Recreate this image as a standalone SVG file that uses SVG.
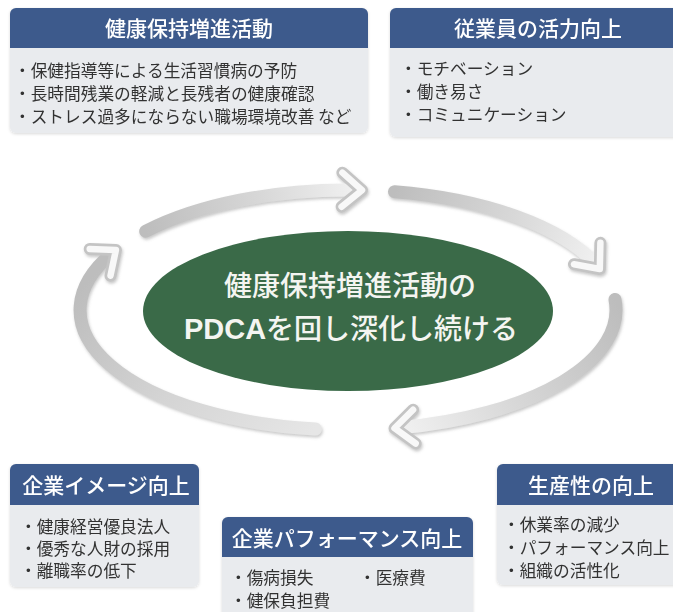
<svg xmlns="http://www.w3.org/2000/svg" width="673" height="612" viewBox="0 0 673 612">
<style>
  .hdr { fill: #3d5a8c; }
  .body { fill: #e9ebee; }
  .htxt { font-family: "Noto Sans CJK JP", "Noto Sans", sans-serif; font-size: 21px; font-weight: 500; fill: #ffffff; text-anchor: middle; }
  .btxt { font-family: "Noto Sans CJK JP", "Noto Sans", sans-serif; font-size: 16.7px; fill: #333333; }
  .ctxt { font-family: "Noto Sans CJK JP", "Noto Sans", sans-serif; font-size: 28px; font-weight: 500; fill: #f4f5f1; text-anchor: middle; }
  .latin { font-family: "Liberation Sans", "Noto Sans CJK JP", sans-serif; font-size: 29px; font-weight: 700; }
  .shaft { fill: none; stroke-width: 13; stroke-linecap: round; }
  .headO { fill: none; stroke: #c4c4c4; stroke-width: 12; stroke-linecap: round; stroke-linejoin: round; }
  .headI { fill: none; stroke: #f8f8f8; stroke-width: 6.5; stroke-linecap: round; stroke-linejoin: round; }
</style>
<defs>
  <filter id="bs" x="-5%" y="-5%" width="110%" height="115%">
    <feDropShadow dx="0" dy="1" stdDeviation="1.5" flood-color="#000" flood-opacity="0.15"/>
  </filter>
  <filter id="as" x="-10%" y="-10%" width="120%" height="130%">
    <feDropShadow dx="1" dy="2" stdDeviation="1.5" flood-color="#888" flood-opacity="0.45"/>
  </filter>
  <linearGradient id="g1" gradientUnits="userSpaceOnUse" x1="145.7" y1="231.3" x2="362" y2="190.2">
    <stop offset="0" stop-color="#bdbdbd"/><stop offset="0.55" stop-color="#d8d8d8"/><stop offset="1" stop-color="#f2f2f2"/>
  </linearGradient>
  <linearGradient id="g2" gradientUnits="userSpaceOnUse" x1="394.5" y1="191.8" x2="599.8" y2="269">
    <stop offset="0" stop-color="#bdbdbd"/><stop offset="0.55" stop-color="#d8d8d8"/><stop offset="1" stop-color="#f2f2f2"/>
  </linearGradient>
  <linearGradient id="g3" gradientUnits="userSpaceOnUse" x1="615" y1="299.5" x2="394.5" y2="428.2">
    <stop offset="0" stop-color="#bdbdbd"/><stop offset="0.55" stop-color="#d8d8d8"/><stop offset="1" stop-color="#f2f2f2"/>
  </linearGradient>
  <linearGradient id="g4" gradientUnits="userSpaceOnUse" x1="315.3" y1="429.1" x2="115.9" y2="250">
    <stop offset="0" stop-color="#e6e6e6"/><stop offset="0.5" stop-color="#d4d4d4"/><stop offset="1" stop-color="#bdbdbd"/>
  </linearGradient>
</defs>

<g id="connectors" filter="url(#as)">
  <path class="shaft" stroke="url(#g1)" d="M145.7,231.3 A268,120 0 0,1 355,190"/>
  <polyline class="headO" points="342.4,172.7 362,190.2 341.6,206.7"/>
  <polyline class="headI" points="342.4,172.7 362,190.2 341.6,206.7"/>

  <path class="shaft" stroke="url(#g2)" d="M394.5,191.8 A268,120 0 0,1 596.5,265"/>
  <polyline class="headO" points="600.4,242.8 599.8,269 574,264.2"/>
  <polyline class="headI" points="600.4,242.8 599.8,269 574,264.2"/>

  <path class="shaft" stroke="url(#g3)" d="M615,299.5 A268,120 0 0,1 400,427.7"/>
  <polyline class="headO" points="413.1,409.7 394.5,428.2 415.7,443.5"/>
  <polyline class="headI" points="413.1,409.7 394.5,428.2 415.7,443.5"/>

  <path class="shaft" stroke="url(#g4)" d="M315.3,429.1 A268,120 0 0,1 111.4,253.7"/>
  <polyline class="headO" points="89.7,248.9 115.9,250 110.5,275.7"/>
  <polyline class="headI" points="89.7,248.9 115.9,250 110.5,275.7"/>
</g>

<g id="center">
  <ellipse cx="348" cy="311" rx="205" ry="80" fill="#3a6a48"/>
  <text class="ctxt" x="350" y="296">健康保持増進活動の</text>
  <text class="ctxt" x="351" y="339"><tspan class="latin">PDCA</tspan>を回し深化し続ける</text>
</g>

<g id="box-health" filter="url(#bs)">
  <rect class="body" x="10" y="8" width="358" height="125" rx="6"/>
  <path class="hdr" d="M10,48 V14 A6,6 0 0 1 16,8 H362 A6,6 0 0 1 368,14 V48 Z"/>
  <text class="htxt" x="189" y="36">健康保持増進活動</text>
  <text class="btxt" x="14" y="77">・保健指導等による生活習慣病の予防</text>
  <text class="btxt" x="14" y="100">・長時間残業の軽減と長残者の健康確認</text>
  <text class="btxt" x="14" y="123">・ストレス過多にならない職場環境改善 など</text>
</g>

<g id="box-vitality" filter="url(#bs)">
  <rect class="body" x="390" y="8" width="300" height="129" rx="6"/>
  <path class="hdr" d="M390,48 V14 A6,6 0 0 1 396,8 H690 V48 Z"/>
  <text class="htxt" x="538" y="36">従業員の活力向上</text>
  <text class="btxt" x="400" y="75">・モチベーション</text>
  <text class="btxt" x="400" y="98">・働き易さ</text>
  <text class="btxt" x="400" y="121">・コミュニケーション</text>
</g>

<g id="box-image" filter="url(#bs)">
  <rect class="body" x="10" y="464" width="189" height="123" rx="6"/>
  <path class="hdr" d="M10,505 V470 A6,6 0 0 1 16,464 H193 A6,6 0 0 1 199,470 V505 Z"/>
  <text class="htxt" x="106" y="493">企業イメージ向上</text>
  <text class="btxt" x="20" y="533">・健康経営優良法人</text>
  <text class="btxt" x="20" y="555">・優秀な人財の採用</text>
  <text class="btxt" x="20" y="577">・離職率の低下</text>
</g>

<g id="box-performance" filter="url(#bs)">
  <rect class="body" x="222" y="517" width="251" height="105" rx="6"/>
  <path class="hdr" d="M222,557 V523 A6,6 0 0 1 228,517 H467 A6,6 0 0 1 473,523 V557 Z"/>
  <text class="htxt" x="347" y="546">企業パフォーマンス向上</text>
  <text class="btxt" x="230" y="584">・傷病損失</text>
  <text class="btxt" x="359" y="584">・医療費</text>
  <text class="btxt" x="230" y="607">・健保負担費</text>
</g>

<g id="box-productivity" filter="url(#bs)">
  <rect class="body" x="497" y="464" width="190" height="121" rx="6"/>
  <path class="hdr" d="M497,505 V470 A6,6 0 0 1 503,464 H687 V505 Z"/>
  <text class="htxt" x="591" y="493">生産性の向上</text>
  <text class="btxt" x="503" y="531">・休業率の減少</text>
  <text class="btxt" x="503" y="554">・パフォーマンス向上</text>
  <text class="btxt" x="503" y="577">・組織の活性化</text>
</g>
</svg>
